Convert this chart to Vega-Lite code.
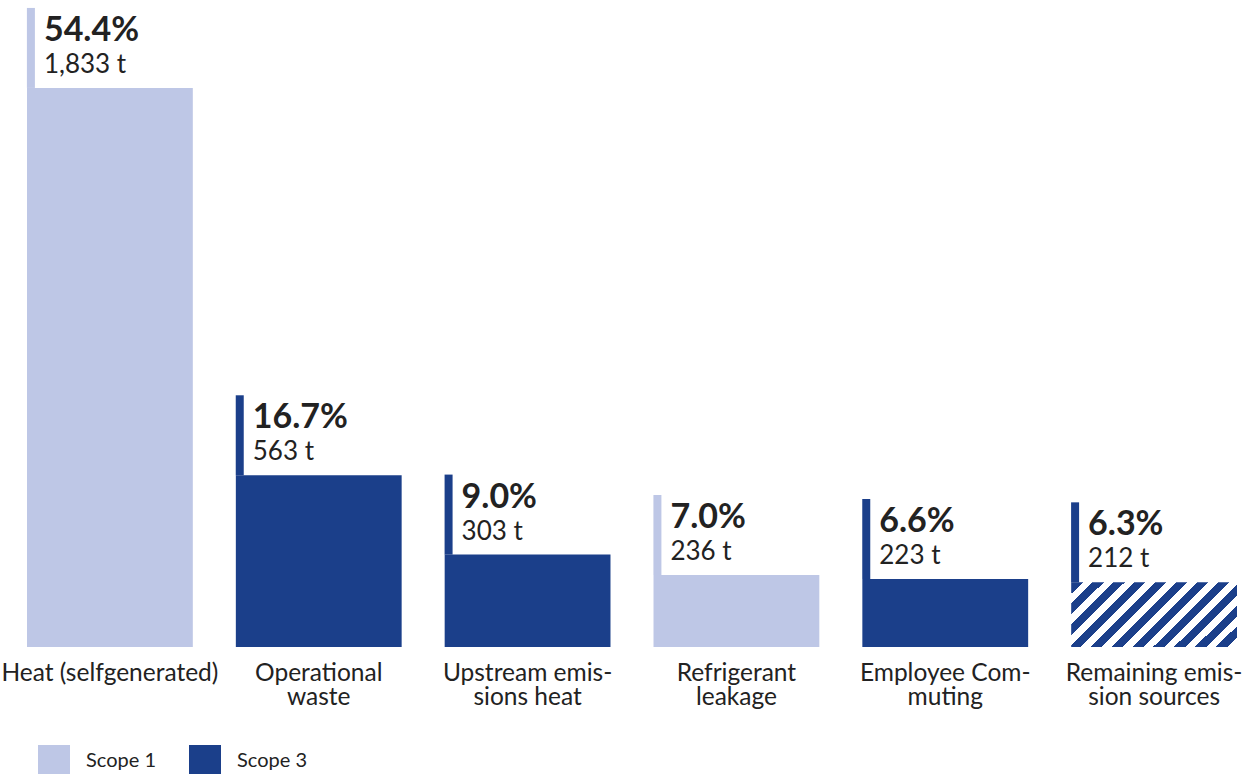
{
  "$schema": "https://vega.github.io/schema/vega-lite/v6.json",
  "width": 1210,
  "height": 610,
  "autosize": {"type": "none"},
  "padding": {"left": 27, "top": 37, "right": 18, "bottom": 127},
  "background": "white",
  "config": {
    "view": {"stroke": null},
    "font": "Lato",
    "text": {"font": "Lato"}
  },
  "data": {
    "values": [
      {"cat": "Heat (selfgenerated)", "value": 1833, "pct": 54.4, "scope": "Scope 1", "hatched": false},
      {"cat": "Operational|waste", "value": 563, "pct": 16.7, "scope": "Scope 3", "hatched": false},
      {"cat": "Upstream emis-|sions heat", "value": 303, "pct": 9.0, "scope": "Scope 3", "hatched": false},
      {"cat": "Refrigerant|leakage", "value": 236, "pct": 7.0, "scope": "Scope 1", "hatched": false},
      {"cat": "Employee Com-|muting", "value": 223, "pct": 6.6, "scope": "Scope 3", "hatched": false},
      {"cat": "Remaining emis-|sion sources", "value": 212, "pct": 6.3, "scope": "Scope 3", "hatched": true}
    ]
  },
  "transform": [
    {"calculate": "format(datum.pct, '.1f') + '%'", "as": "pctLabel"},
    {"calculate": "format(datum.value, ',') + ' t'", "as": "tLabel"}
  ],
  "encoding": {
    "x": {
      "field": "cat",
      "type": "nominal",
      "sort": null,
      "scale": {"paddingInner": 0.206, "paddingOuter": 0},
      "axis": {
        "title": null,
        "labelAngle": 0,
        "ticks": false,
        "domain": false,
        "labelFont": "Lato",
        "labelFontSize": 24.5,
        "labelColor": "#222222",
        "labelPadding": 14,
        "labelLineHeight": 24.5,
        "labelLimit": 400,
        "labelExpr": "split(datum.label, '|')"
      }
    },
    "y": {
      "field": "value",
      "type": "quantitative",
      "scale": {"domain": [0, 2000]},
      "axis": null
    }
  },
  "layer": [
    {
      "transform": [{"filter": "!datum.hatched"}],
      "mark": {"type": "bar"},
      "encoding": {
        "color": {
          "field": "scope",
          "type": "nominal",
          "scale": {"domain": ["Scope 1", "Scope 3"], "range": ["#bec7e6", "#1b3f8a"]},
          "legend": {
            "title": null,
            "orient": "none",
            "legendX": 11,
            "legendY": 708,
            "direction": "horizontal",
            "symbolType": "square",
            "symbolSize": 1024,
            "symbolStrokeWidth": 0,
            "labelFont": "Lato",
            "labelFontSize": 20,
            "labelColor": "#222222",
            "labelOffset": 16,
            "columnPadding": 33
          }
        }
      }
    },
    {
      "transform": [{"filter": "datum.hatched"}],
      "mark": {
        "type": "bar",
        "fill": {
          "gradient": "linear",
          "x1": 0, "y1": 0, "x2": 1.206, "y2": 0.473,
          "stops": [
            {"offset": 0, "color": "#1b3f8a"}, {"offset": 0.05, "color": "#1b3f8a"},
            {"offset": 0.05, "color": "#ffffff"}, {"offset": 0.0909, "color": "#ffffff"},
            {"offset": 0.0909, "color": "#1b3f8a"}, {"offset": 0.1409, "color": "#1b3f8a"},
            {"offset": 0.1409, "color": "#ffffff"}, {"offset": 0.1818, "color": "#ffffff"},
            {"offset": 0.1818, "color": "#1b3f8a"}, {"offset": 0.2318, "color": "#1b3f8a"},
            {"offset": 0.2318, "color": "#ffffff"}, {"offset": 0.2727, "color": "#ffffff"},
            {"offset": 0.2727, "color": "#1b3f8a"}, {"offset": 0.3227, "color": "#1b3f8a"},
            {"offset": 0.3227, "color": "#ffffff"}, {"offset": 0.3636, "color": "#ffffff"},
            {"offset": 0.3636, "color": "#1b3f8a"}, {"offset": 0.4136, "color": "#1b3f8a"},
            {"offset": 0.4136, "color": "#ffffff"}, {"offset": 0.4545, "color": "#ffffff"},
            {"offset": 0.4545, "color": "#1b3f8a"}, {"offset": 0.5045, "color": "#1b3f8a"},
            {"offset": 0.5045, "color": "#ffffff"}, {"offset": 0.5455, "color": "#ffffff"},
            {"offset": 0.5455, "color": "#1b3f8a"}, {"offset": 0.5955, "color": "#1b3f8a"},
            {"offset": 0.5955, "color": "#ffffff"}, {"offset": 0.6364, "color": "#ffffff"},
            {"offset": 0.6364, "color": "#1b3f8a"}, {"offset": 0.6864, "color": "#1b3f8a"},
            {"offset": 0.6864, "color": "#ffffff"}, {"offset": 0.7273, "color": "#ffffff"},
            {"offset": 0.7273, "color": "#1b3f8a"}, {"offset": 0.7773, "color": "#1b3f8a"},
            {"offset": 0.7773, "color": "#ffffff"}, {"offset": 0.8182, "color": "#ffffff"},
            {"offset": 0.8182, "color": "#1b3f8a"}, {"offset": 0.8682, "color": "#1b3f8a"},
            {"offset": 0.8682, "color": "#ffffff"}, {"offset": 0.9091, "color": "#ffffff"},
            {"offset": 0.9091, "color": "#1b3f8a"}, {"offset": 0.9591, "color": "#1b3f8a"},
            {"offset": 0.9591, "color": "#ffffff"}, {"offset": 1, "color": "#ffffff"}
          ]
        }
      }
    },
    {
      "mark": {"type": "rule", "strokeWidth": 8, "xOffset": -79, "y2Offset": -80, "strokeCap": "butt"},
      "encoding": {
        "y2": {"field": "value"},
        "color": {"field": "scope", "type": "nominal", "legend": null}
      }
    },
    {
      "mark": {"type": "text", "align": "left", "baseline": "alphabetic", "xOffset": -66, "dy": -47, "font": "Lato", "fontSize": 34, "fontWeight": "bold", "color": "#222222"},
      "encoding": {"text": {"field": "pctLabel"}}
    },
    {
      "mark": {"type": "text", "align": "left", "baseline": "alphabetic", "xOffset": -66, "dy": -15, "font": "Lato", "fontSize": 26, "color": "#222222"},
      "encoding": {"text": {"field": "tLabel"}}
    }
  ]
}
